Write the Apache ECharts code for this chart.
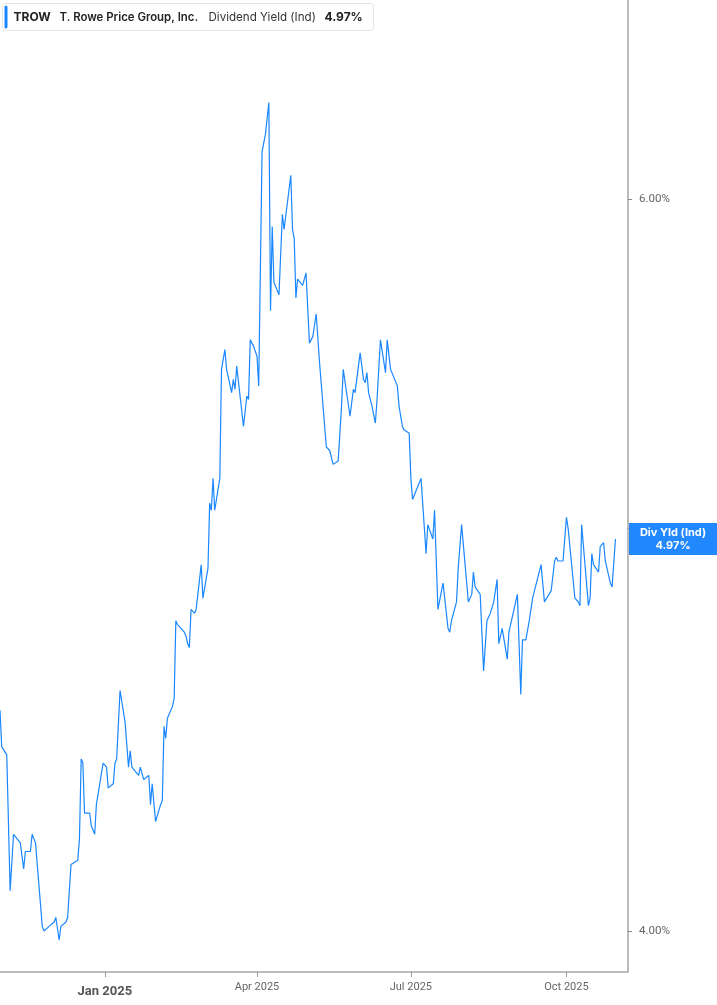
<!DOCTYPE html>
<html><head><meta charset="utf-8">
<script src="https://cdn.jsdelivr.net/npm/echarts@6/dist/echarts.min.js"></script>
<style>html,body{margin:0;padding:0;background:#fff}#c{width:717px;height:1005px}</style>
</head><body><div id="c"></div>
<script>
const ticker = 'TROW';
const company = 'T. Rowe Price Group, Inc.';
const metric = 'Dividend Yield (Ind)';
const shortMetric = 'Div Yld (Ind)';

const dates = [
'2024-10-31','2024-11-01','2024-11-04','2024-11-06','2024-11-08','2024-11-12','2024-11-14','2024-11-15','2024-11-18','2024-11-19',
'2024-11-21','2024-11-25','2024-11-26','2024-11-29','2024-12-02','2024-12-03','2024-12-05','2024-12-06','2024-12-09','2024-12-10',
'2024-12-12','2024-12-16','2024-12-17','2024-12-18','2024-12-19','2024-12-20','2024-12-23','2024-12-24','2024-12-26','2024-12-27',
'2024-12-31','2025-01-02','2025-01-03','2025-01-06','2025-01-07','2025-01-08','2025-01-10','2025-01-13','2025-01-15','2025-01-16',
'2025-01-17','2025-01-21','2025-01-22','2025-01-24','2025-01-27','2025-01-28','2025-01-29','2025-01-31','2025-02-03','2025-02-04',
'2025-02-05','2025-02-06','2025-02-07','2025-02-10','2025-02-11','2025-02-12','2025-02-13','2025-02-17','2025-02-18','2025-02-19',
'2025-02-20','2025-02-21','2025-02-23','2025-02-24','2025-02-27','2025-02-28','2025-03-03','2025-03-04','2025-03-05','2025-03-06',
'2025-03-07','2025-03-10','2025-03-11','2025-03-13','2025-03-14','2025-03-17','2025-03-18','2025-03-19','2025-03-20','2025-03-21',
'2025-03-24','2025-03-26','2025-03-27','2025-03-28','2025-03-30','2025-04-01','2025-04-02','2025-04-04','2025-04-06','2025-04-08',
'2025-04-09','2025-04-10','2025-04-11','2025-04-14','2025-04-16','2025-04-17','2025-04-21','2025-04-22','2025-04-23','2025-04-24',
'2025-04-25','2025-04-28','2025-04-30','2025-05-02','2025-05-04','2025-05-06','2025-05-08','2025-05-09','2025-05-12','2025-05-14',
'2025-05-16','2025-05-19','2025-05-21','2025-05-22','2025-05-26','2025-05-28','2025-05-29','2025-06-01','2025-06-03','2025-06-04',
'2025-06-05','2025-06-06','2025-06-08','2025-06-10','2025-06-11','2025-06-13','2025-06-16','2025-06-17','2025-06-19','2025-06-23',
'2025-06-24','2025-06-26','2025-06-27','2025-06-30','2025-07-01','2025-07-02','2025-07-03','2025-07-07','2025-07-10','2025-07-11',
'2025-07-14','2025-07-15','2025-07-17','2025-07-20','2025-07-23','2025-07-24','2025-07-25','2025-07-28','2025-07-29','2025-07-31',
'2025-08-04','2025-08-06','2025-08-07','2025-08-08','2025-08-11','2025-08-13','2025-08-15','2025-08-17','2025-08-19','2025-08-21',
'2025-08-22','2025-08-24','2025-08-27','2025-08-28','2025-08-30','2025-09-02','2025-09-04','2025-09-05','2025-09-07','2025-09-09',
'2025-09-11','2025-09-12','2025-09-16','2025-09-18','2025-09-22','2025-09-24','2025-09-25','2025-09-26','2025-09-29','2025-10-01',
'2025-10-02','2025-10-06','2025-10-08','2025-10-09','2025-10-10','2025-10-14','2025-10-15','2025-10-16','2025-10-17','2025-10-20',
'2025-10-21','2025-10-23','2025-10-24','2025-10-27','2025-10-28','2025-10-30'
];

const yields = [
4.52,4.43,4.41,4.09,4.22,4.20,4.14,4.18,4.18,4.22,
4.20,4.01,4.00,4.01,4.02,4.03,3.98,4.01,4.02,4.03,
4.15,4.16,4.21,4.40,4.39,4.27,4.27,4.24,4.22,4.29,
4.39,4.38,4.33,4.34,4.39,4.40,4.57,4.49,4.38,4.42,
4.38,4.36,4.38,4.35,4.36,4.29,4.34,4.25,4.29,4.30,
4.48,4.45,4.50,4.53,4.55,4.75,4.74,4.72,4.71,4.69,
4.68,4.78,4.77,4.78,4.90,4.81,4.89,5.07,5.05,5.14,
5.05,5.14,5.46,5.52,5.46,5.39,5.43,5.40,5.47,5.47,
5.29,5.38,5.37,5.55,5.53,5.50,5.41,6.16,6.22,6.33,
5.64,5.91,5.73,5.69,5.95,5.90,6.08,5.90,5.87,5.68,
5.74,5.72,5.76,5.54,5.56,5.63,5.48,5.48,5.23,5.22,
5.18,5.19,5.35,5.46,5.32,5.40,5.39,5.51,5.43,5.42,
5.45,5.39,5.35,5.30,5.37,5.55,5.45,5.55,5.46,5.41,
5.35,5.29,5.28,5.27,5.14,5.08,5.08,5.14,4.93,5.01,
4.97,5.05,4.78,4.85,4.73,4.72,4.75,4.80,4.89,5.01,
4.80,4.82,4.88,4.84,4.82,4.62,4.75,4.77,4.80,4.86,
4.69,4.73,4.65,4.72,4.76,4.82,4.56,4.70,4.70,4.75,
4.81,4.81,4.90,4.80,4.83,4.91,4.92,4.91,4.91,5.03,
5.00,4.81,4.80,4.79,5.01,4.79,4.81,4.93,4.90,4.88,
4.95,4.96,4.91,4.85,4.84,4.97
];

const yTickValues = [4, 5, 6];
const xTickDates = ['2025-01-01', '2025-04-01', '2025-07-01', '2025-10-01'];
const monthNames = ['Jan','Feb','Mar','Apr','May','Jun','Jul','Aug','Sep','Oct','Nov','Dec'];

function toTs(s) { const p = s.split('-').map(Number); return Date.UTC(p[0], p[1] - 1, p[2]); }

const lastVal = yields[yields.length - 1];
const lastTxt = lastVal.toFixed(2) + '%';
const seriesData = dates.map((d, i) => [toTs(d), yields[i]]);
const xTicks = xTickDates.map(toTs);

const chart = echarts.init(document.getElementById('c'));
chart.setOption({
  animation: false,
  backgroundColor: '#fff',
  grid: { left: 0, right: 89, top: 0, bottom: 33, containLabel: false },
  xAxis: {
    type: 'value',
    min: toTs('2024-10-31'),
    max: toTs('2025-11-06') + 10 * 3600 * 1000,
    axisLine: { show: true, lineStyle: { color: '#a6a6a6', width: 1.5 } },
    axisTick: { show: true, customValues: xTicks, length: 5, lineStyle: { color: '#999' } },
    splitLine: { show: false },
    axisLabel: {
      customValues: xTicks,
      margin: 10,
      color: '#666',
      fontFamily: 'Roboto',
      fontSize: 11,
      formatter: function (v) {
        const d = new Date(v);
        const s = monthNames[d.getUTCMonth()] + ' ' + d.getUTCFullYear();
        return d.getUTCMonth() === 0 ? '{y|' + s + '}' : s;
      },
      rich: { y: { fontFamily: 'Roboto', fontSize: 13, fontWeight: 'bold', color: '#555', padding: [3, 0, 0, 0] } }
    }
  },
  yAxis: {
    type: 'log',
    position: 'right',
    min: 3.91,
    max: 6.70,
    axisLine: { show: true, lineStyle: { color: '#a6a6a6', width: 1.5 } },
    axisTick: { show: true, customValues: yTickValues, length: 4, lineStyle: { color: '#888' } },
    splitLine: { show: false },
    axisLabel: {
      customValues: yTickValues,
      margin: 11,
      color: '#666',
      fontFamily: 'Roboto',
      fontSize: 11.6,
      formatter: v => Number(v).toFixed(2) + '%'
    }
  },
  series: [{
    type: 'line',
    data: seriesData,
    showSymbol: false,
    symbol: 'none',
    lineStyle: { color: '#1a87ff', width: 1.2 },
    markLine: {
      silent: true,
      symbol: 'none',
      animation: false,
      lineStyle: { color: 'rgba(0,0,0,0)', width: 0, type: 'solid' },
      emphasis: { disabled: true },
      data: [{ yAxis: lastVal }],
      label: {
        show: true,
        position: 'end',
        distance: 1,
        backgroundColor: '#2188ff',
        padding: [3, 2],
        formatter: '{a|' + shortMetric + '}\n{a|' + lastTxt + '}',
        rich: { a: { width: 84, align: 'center', color: '#fff', fontWeight: 'bold', fontSize: 11, lineHeight: 13, fontFamily: 'Inter' } }
      }
    },
    z: 3
  }],
  graphic: [{
    type: 'group',
    left: 2, top: 3,
    children: [
      { type: 'rect', shape: { x: 0, y: 0, width: 371, height: 27, r: 3 }, style: { fill: '#fff', stroke: '#e3e3e3', lineWidth: 1 } },
      { type: 'rect', shape: { x: 2, y: 2, width: 3, height: 23, r: 1.5 }, style: { fill: '#1a87ff' } },
      { type: 'text', x: 11, y: 14, style: { text: ticker, fontFamily: 'Inter', fontWeight: 'bold', fontSize: 12, fill: '#222', verticalAlign: 'middle' } },
      { type: 'text', x: 57, y: 14, style: { text: company, fontFamily: 'Inter', fontWeight: 600, fontSize: 11.4, fill: '#222', verticalAlign: 'middle' } },
      { type: 'text', x: 206, y: 14, style: { text: metric, fontFamily: 'Inter', fontWeight: 'normal', fontSize: 11.6, fill: '#333', verticalAlign: 'middle' } },
      { type: 'text', x: 322, y: 14, style: { text: lastTxt, fontFamily: 'Inter', fontWeight: 'bold', fontSize: 12, fill: '#222', verticalAlign: 'middle' } }
    ]
  }]
});
</script>
</body></html>
